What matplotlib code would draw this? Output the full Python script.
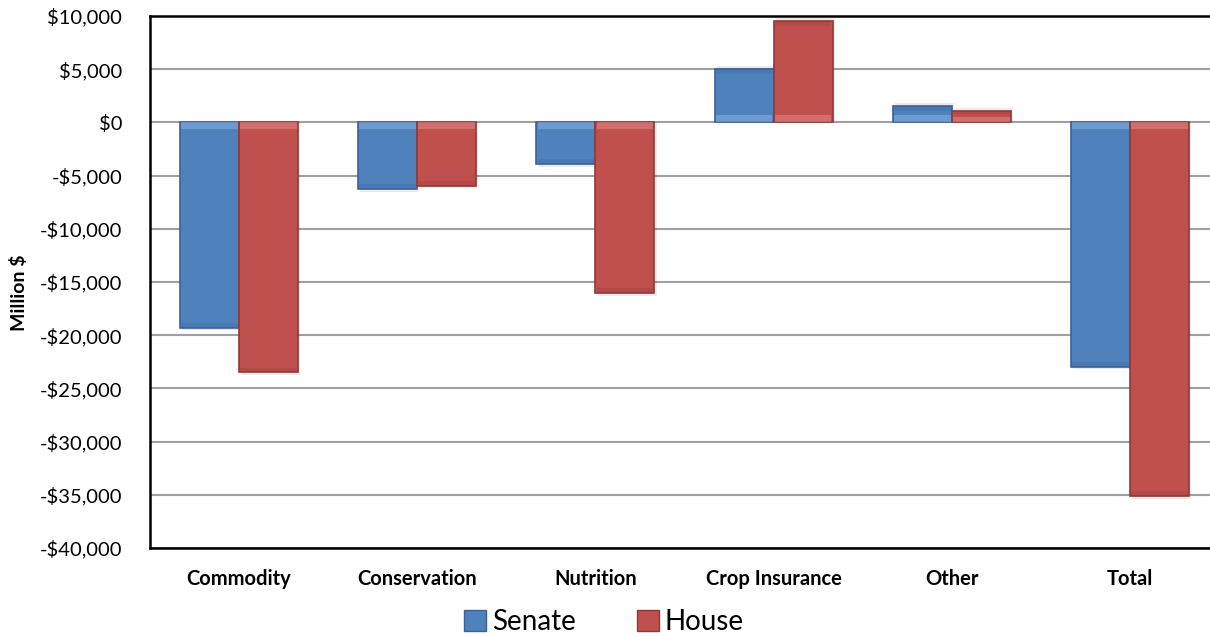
import matplotlib
matplotlib.use("Agg")
import matplotlib.pyplot as plt
import numpy as np
from matplotlib.patches import Patch

categories = ["Commodity", "Conservation", "Nutrition", "Crop Insurance", "Other", "Total"]
senate = [-19300, -6270, -3900, 5040, 1560, -22950]
house = [-23500, -5960, -16050, 9550, 1090, -35100]
series_names = ["Senate", "House"]
yticks = list(range(-40000, 10001, 5000))

blue, blue_edge, blue_light = "#4F81BD", "#3A6296", "#8DB4E2"
red, red_edge, red_light = "#C0504D", "#8E3A38", "#E58F8C"

plt.rcParams["font.family"] = ["Lato", "DejaVu Sans"]

fig = plt.figure(figsize=(12.1, 6.36), dpi=100)
ax = fig.add_axes([150 / 1210, 1 - 548 / 636, 1069 / 1210, 532 / 636])

x = np.arange(len(categories))
w = 0.331

def draw(xpos, vals, face, edge, light):
    vals = np.array(vals, dtype=float)
    # soft shadow
    ax.bar(xpos + 0.012, vals + np.sign(vals) * 250, w, color="#000000", alpha=0.08,
           zorder=2, linewidth=0)
    ax.bar(xpos, vals, w, color=face, edgecolor=edge, linewidth=1.2, zorder=3)
    # bevel highlight near the zero end
    band = np.sign(vals) * np.minimum(np.abs(vals) * 0.5, 650)
    ax.bar(xpos, band, w * 0.96, color=light, alpha=0.5, linewidth=0, zorder=4)
    # dark end
    endb = np.sign(vals) * np.minimum(np.abs(vals) * 0.3, 450)
    ax.bar(xpos, endb, w * 0.96, bottom=vals - endb, color=edge, alpha=0.25,
           linewidth=0, zorder=4)

draw(x - w / 2, senate, blue, blue_edge, blue_light)
draw(x + w / 2, house, red, red_edge, red_light)

ax.set_xlim(-0.5, len(categories) - 0.5)
ax.set_ylim(-40000, 10000)
ax.set_yticks(yticks)
ax.set_yticklabels([("-$" if v < 0 else "$") + f"{abs(v):,}" for v in yticks], fontsize=14.5)
ax.set_xticks(x)
ax.set_xticklabels(categories, fontsize=14.5, fontweight="bold")
ax.tick_params(axis="y", length=0, pad=20)
ax.tick_params(axis="x", length=0, pad=15)

ax.yaxis.grid(True, color="#A0A0A0", linewidth=1.5, zorder=0)
ax.set_axisbelow(True)
for s in ["top", "left", "bottom"]:
    ax.spines[s].set_color("black")
    ax.spines[s].set_linewidth(1.8)
ax.spines["right"].set_visible(False)

ax.set_ylabel("Million $", fontsize=14, fontweight="bold")
ax.yaxis.set_label_coords(-0.114, 0.48)

handles = [Patch(facecolor=blue, edgecolor=blue_edge), Patch(facecolor=red, edgecolor=red_edge)]
fig.legend(handles, series_names, loc="center", bbox_to_anchor=(0.499, 0.022), ncol=2,
           frameon=False, fontsize=20, handlelength=0.8, handleheight=0.8,
           handletextpad=0.2, columnspacing=2.2)

fig.savefig("out.png", dpi=100)
